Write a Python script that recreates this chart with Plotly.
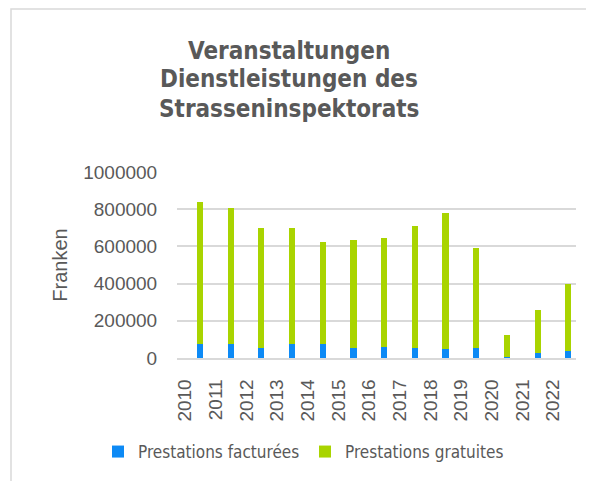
import plotly.graph_objects as go

years = [2010, 2011, 2012, 2013, 2014, 2015, 2016, 2017, 2018, 2019, 2020, 2021, 2022]
facturees = [74000, 74000, 52000, 74000, 74000, 52000, 61000, 52000, 47000, 52000, 5000, 25000, 40000]
totals = [838000, 804000, 701000, 701000, 622000, 636000, 647000, 709000, 779000, 590000, 126000, 259000, 398000]
gratuites = [t - f for t, f in zip(totals, facturees)]
y_ticks = [0, 200000, 400000, 600000, 800000, 1000000]
title_lines = ["Veranstaltungen", "Dienstleistungen des", "Strasseninspektorats"]

GREY = "#595959"
COND = "DejaVu Sans Condensed"
OFF = 8  # page body margin of the browser
W, H = 594 - OFF, 481 - OFF
L, R, T, B = 177 - OFF, 18, 172 - OFF, 123
ph = H - T - B
pw = W - L - R

fig = go.Figure()
fig.add_trace(go.Bar(x=years, y=facturees, name="Prestations facturées",
                     marker=dict(color="#0d8af5", line=dict(width=0)),
                     width=0.2, offset=0.15, legend="legend"))
fig.add_trace(go.Bar(x=years, y=gratuites, name="Prestations gratuites",
                     marker=dict(color="#a9d400", line=dict(width=0)),
                     width=0.2, offset=0.15, legend="legend2"))

legend_common = dict(orientation="h", xref="container", yref="container",
                     xanchor="left", y=1 - (452 - OFF) / H, yanchor="middle",
                     font=dict(family=COND, size=17, color=GREY),
                     itemsizing="constant", bgcolor="rgba(0,0,0,0)")

fig.update_layout(
    width=W, height=H,
    margin=dict(l=L, r=R, t=T, b=B, pad=0, autoexpand=False),
    barmode="stack",
    plot_bgcolor="white", paper_bgcolor="white",
    showlegend=True,
    legend=dict(x=(98 - OFF) / W, **legend_common),
    legend2=dict(x=(305 - OFF) / W, **legend_common),
    xaxis=dict(range=[years[0] - 0.5, years[-1] + 0.5],
               tickvals=[y - 0.24 for y in years],
               ticktext=[str(y) for y in years],
               tickangle=-90, ticks="outside", ticklen=12,
               tickcolor="rgba(0,0,0,0)", automargin=False,
               tickfont=dict(family="Liberation Sans", size=19, color=GREY),
               showgrid=False, zeroline=False, showline=True,
               linecolor="#d9d9d9", linewidth=1.5),
    yaxis=dict(range=[0, 1000000], tickvals=y_ticks,
               ticktext=[str(v) for v in y_ticks], automargin=False,
               ticks="outside", ticklen=15, tickcolor="rgba(0,0,0,0)",
               tickfont=dict(family="Liberation Sans", size=19, color=GREY),
               showgrid=True, gridcolor="#d9d9d9", gridwidth=1.5,
               zeroline=False, showline=False,
               title=dict(text="Franken", standoff=10,
                          font=dict(family="Liberation Sans", size=20, color=GREY))),
)

line_centers = [51, 79, 109]
for txt, py in zip(title_lines, line_centers):
    fig.add_annotation(text="<b>" + txt + "</b>", xref="paper", yref="paper",
                       x=(289 - OFF - L) / pw, y=(H - B - (py - OFF)) / ph,
                       xanchor="center", yanchor="middle", showarrow=False,
                       font=dict(family=COND, size=24, color=GREY))

# outer chart frame (cut by the image edges on right and bottom)
fig.add_shape(type="rect", xref="paper", yref="paper",
              x0=(11 - OFF - L) / pw, x1=(W + 20 - L) / pw,
              y0=(H - B - (H + 20)) / ph, y1=(H - B - (9 - OFF)) / ph,
              line=dict(color="#d9d9d9", width=1.5), fillcolor="rgba(0,0,0,0)",
              layer="below")

fig.write_html("out.html", config={"displayModeBar": False})
